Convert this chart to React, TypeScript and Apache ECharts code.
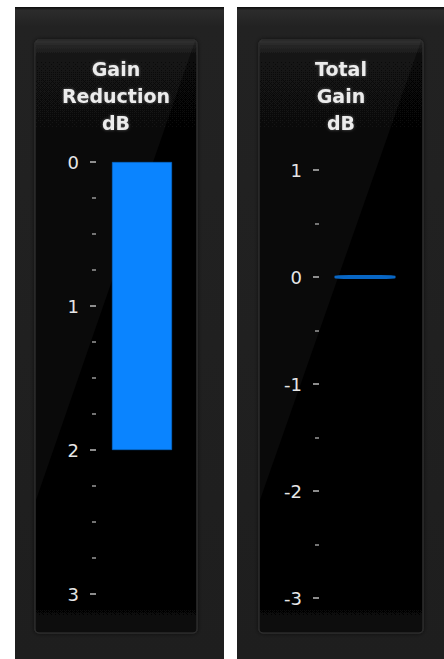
import React, { useEffect, useRef } from "react";
import * as echarts from "echarts";

const leftTitle = ["Gain", "Reduction", "dB"];
const rightTitle = ["Total", "Gain", "dB"];
const leftCategory = ["Gain Reduction"];
const rightCategory = ["Total Gain"];
const gainReduction = [2];
const totalGain = [0];
const leftRange = { min: 0, max: 3 };
const rightRange = { min: -3, max: 1 };

export default function App() {
  const ref = useRef<HTMLDivElement>(null);
  useEffect(() => {
    const chart = echarts.init(ref.current!, undefined, { renderer: "svg" });
    const panel = (x: number, w: number, x0: number, w0: number) => [
      {
        type: "rect", z: -20, silent: true,
        shape: { x: x0, y: 7, width: w0, height: 652 },
        style: {
          fill: new echarts.graphic.LinearGradient(0, 0, 0, 1, [
            { offset: 0, color: "#0c0c0c" },
            { offset: 0.005, color: "#2c2c2c" },
            { offset: 0.03, color: "#222" },
            { offset: 1, color: "#1e1e1e" },
          ]),
        },
      },
      {
        type: "rect", z: -19, silent: true,
        shape: { x, y: 40, width: w, height: 593, r: 4 },
        style: {
          fill: new echarts.graphic.LinearGradient(0, 0, 0, 1, [
            { offset: 0, color: "#2a2a2a" },
            { offset: 0.03, color: "#070707" },
            { offset: 0.9, color: "#000" },
            { offset: 1, color: "#0a0a0a" },
          ]),
          stroke: "#2e2e2e", lineWidth: 1.5,
          shadowBlur: 4, shadowColor: "rgba(0,0,0,0.6)",
        },
      },
      {
        type: "polygon", z: -18, silent: true,
        shape: { points: [[x + 1, 41], [x + w - 2, 41], [x + 1, 500]] },
        style: { fill: "rgba(255,255,255,0.04)" },
      },
    ];
    const title = (lines: string[], cx: number) =>
      lines.map((t, i) => ({
        type: "text", z: 5, silent: true,
        x: cx, y: 69 + i * 27,
        style: {
          text: t, fill: "#ececec", font: "bold 19px 'DejaVu Sans'",
          align: "center", verticalAlign: "middle",
          textShadowBlur: 3, textShadowColor: "rgba(255,255,255,0.35)",
        },
      }));
    const axisCommon = {
      z: 10,
      axisLine: { show: false },
      splitLine: { show: false },
      axisTick: { show: true, length: 6, lineStyle: { color: "#bbb", width: 1.5 } },
      minorTick: { show: true, length: 4, lineStyle: { color: "#999", width: 1.5 } },
      axisLabel: {
        color: "#e6e6e6", fontSize: 18, fontFamily: "DejaVu Sans", margin: 17,
        formatter: (v: number) => String(v),
      },
    };
    chart.setOption({
      animation: false,
      backgroundColor: "#fff",
      grid: [
        { left: 96, top: 162, width: 92, height: 432 },
        { left: 319, top: 170, width: 92, height: 428 },
      ],
      xAxis: [
        { type: "category", gridIndex: 0, data: leftCategory, show: false },
        { type: "category", gridIndex: 1, data: rightCategory, show: false },
      ],
      yAxis: [
        {
          ...axisCommon, type: "value", gridIndex: 0, inverse: true,
          min: leftRange.min, max: leftRange.max, interval: 1,
          minorTick: { ...axisCommon.minorTick, splitNumber: 4 },
        },
        {
          ...axisCommon, type: "value", gridIndex: 1,
          min: rightRange.min, max: rightRange.max, interval: 1,
          minorTick: { ...axisCommon.minorTick, splitNumber: 2 },
        },
      ],
      series: [
        {
          type: "bar", xAxisIndex: 0, yAxisIndex: 0, z: 10,
          data: gainReduction, barWidth: 60,
          itemStyle: { color: "#0a84ff", borderColor: "#0766c4", borderWidth: 0.5 },
        },
        {
          type: "scatter", xAxisIndex: 1, yAxisIndex: 1, z: 10,
          data: totalGain, symbol: "roundRect", symbolSize: [61, 4],
          itemStyle: { color: "#0a80f5" },
        },
      ],
      graphic: [
        ...panel(35, 162, 15, 209),
        ...panel(259, 164, 237, 207),
        ...title(leftTitle, 116),
        ...title(rightTitle, 341),
      ],
    });
    return () => chart.dispose();
  }, []);
  return (
    <div
      ref={ref}
      style={{ position: "fixed", left: 0, top: 0, width: 444, height: 659, background: "#fff" }}
    />
  );
}
